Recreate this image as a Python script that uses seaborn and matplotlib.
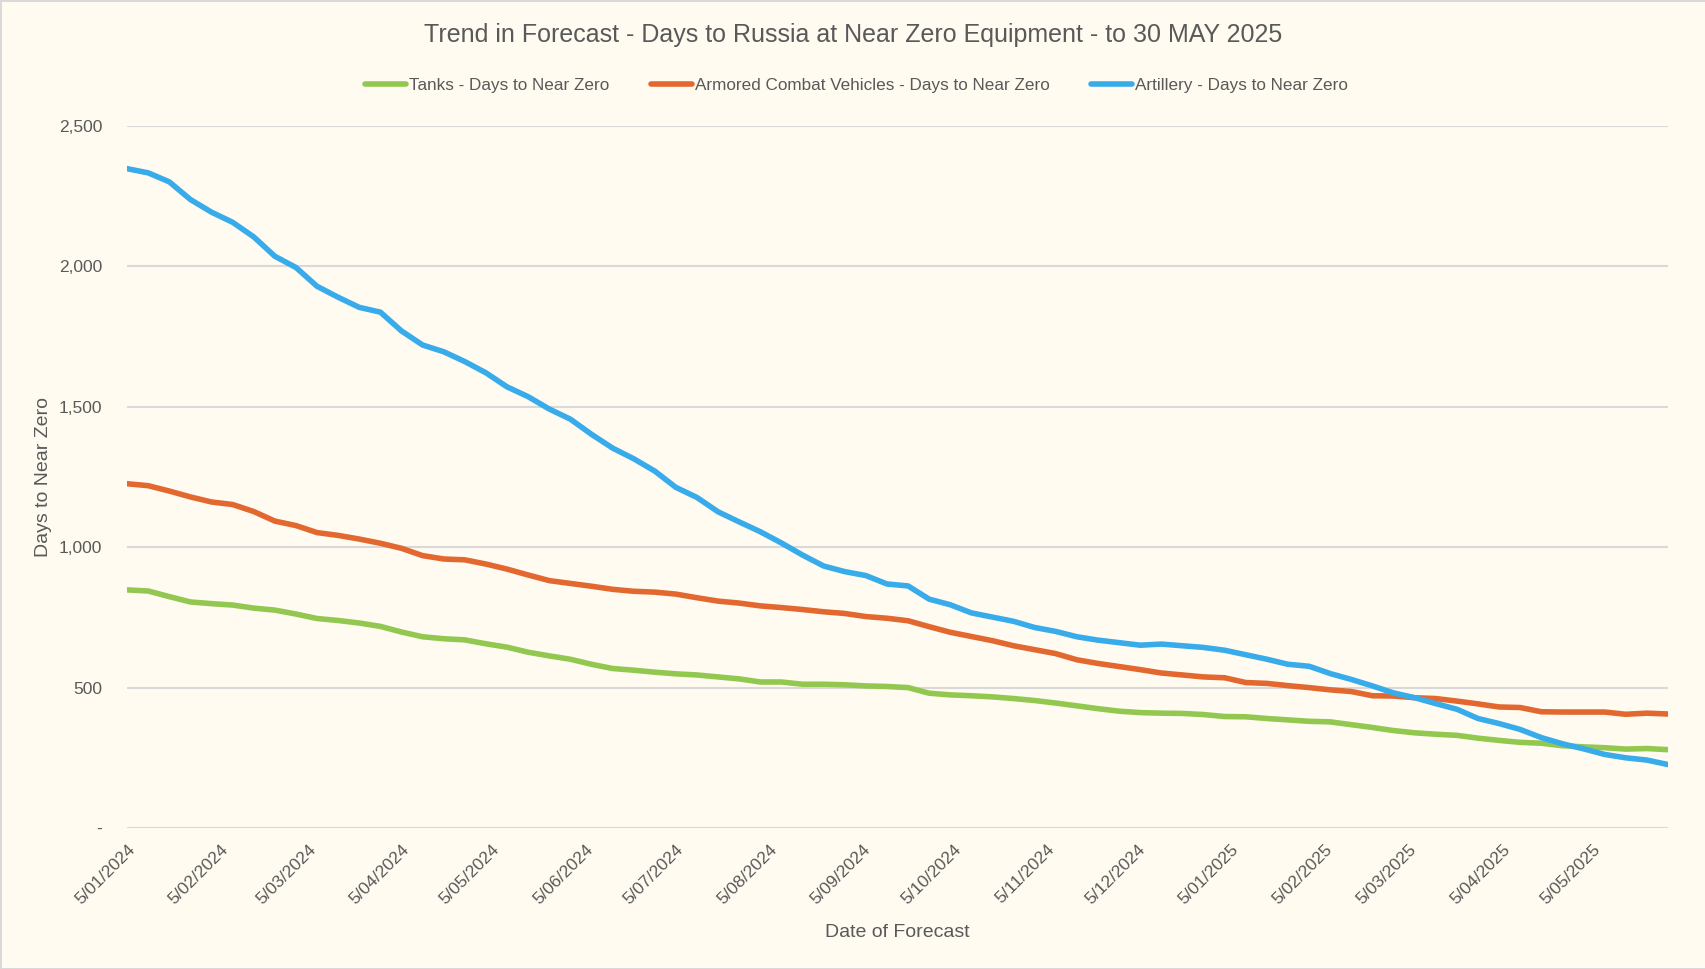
import pandas as pd
import numpy as np
import matplotlib
matplotlib.use("Agg")
import matplotlib.pyplot as plt
from matplotlib.ticker import FuncFormatter
import seaborn as sns

# weekly forecasts, 5 Jan 2024 -> 30 May 2025
dates = pd.date_range("2024-01-05", periods=74, freq="7D")

tanks = [848, 844, 824, 805, 799, 794, 783, 776, 762, 746, 739, 730, 718, 698, 681,
         674, 670, 656, 644, 626, 613, 601, 583, 568, 562, 555, 549, 545, 538, 531,
         520, 520, 512, 512, 510, 506, 504, 500, 480, 474, 471, 467, 461, 454, 445,
         435, 425, 416, 411, 409, 408, 404, 397, 396, 390, 385, 380, 378, 368, 358,
         347, 339, 334, 330, 320, 312, 305, 302, 293, 289, 286, 281, 283, 279]

acv = [1226, 1219, 1200, 1179, 1161, 1152, 1127, 1093, 1077, 1052, 1042, 1029, 1014, 996, 970,
       958, 955, 940, 922, 901, 881, 871, 861, 850, 843, 840, 833, 820, 808, 801,
       791, 785, 778, 770, 764, 753, 747, 738, 717, 697, 682, 667, 649, 635, 621,
       599, 586, 575, 564, 552, 545, 538, 535, 518, 515, 507, 500, 492, 486, 471,
       470, 464, 461, 452, 442, 431, 429, 414, 413, 413, 413, 405, 409, 406]

artillery = [2348, 2333, 2301, 2238, 2193, 2157, 2105, 2036, 1996, 1929, 1890, 1854, 1837, 1770, 1720,
             1696, 1661, 1621, 1571, 1536, 1492, 1456, 1402, 1353, 1315, 1271, 1213, 1177, 1126, 1090,
             1055, 1015, 972, 933, 913, 899, 869, 862, 815, 795, 766, 751, 736, 714, 700,
             681, 669, 660, 651, 655, 649, 643, 633, 617, 601, 583, 576, 550, 529, 506,
             481, 464, 443, 423, 390, 372, 351, 322, 300, 282, 262, 250, 242, 226]

series_names = ["Tanks - Days to Near Zero",
                "Armored Combat Vehicles - Days to Near Zero",
                "Artillery - Days to Near Zero"]
colors = ["#92C850", "#E2682F", "#38ABEB"]

df = pd.DataFrame({"Date": dates,
                   series_names[0]: tanks,
                   series_names[1]: acv,
                   series_names[2]: artillery})
long_df = df.melt(id_vars="Date", var_name="Series", value_name="Days")

bg = "#FFFBF0"
text_col = "#595959"

sns.set_style("white")
plt.rcParams["font.family"] = ["Liberation Sans", "DejaVu Sans"]

fig = plt.figure(figsize=(17.06, 9.69), dpi=100, facecolor=bg)
fig.patch.set_edgecolor("#D9D9D9")
fig.patch.set_linewidth(2)
ax = fig.add_axes([0.0745, 0.1455, 0.9032, 0.7245])
ax.set_facecolor(bg)

sns.lineplot(data=long_df, x="Date", y="Days", hue="Series",
             hue_order=series_names, palette=colors, linewidth=4,
             ax=ax, legend=True)

ax.set_ylim(0, 2500)
ax.set_xlim(dates[0], dates[-1])
ax.set_yticks(np.arange(0, 2501, 500))
ax.yaxis.set_major_formatter(FuncFormatter(lambda v, p: "-" if v == 0 else f"{v:,.0f}"))
ax.grid(axis="y", color="#D9D9D9", linewidth=1.5)
ax.set_axisbelow(True)
for s in ax.spines.values():
    s.set_visible(False)

# monthly ticks on the 5th
month_ticks = pd.date_range("2024-01-01", "2025-05-01", freq="MS") + pd.Timedelta(days=4)
ax.set_xticks(month_ticks)
ax.set_xticklabels([f"{d.day}/{d.month:02d}/{d.year}" for d in month_ticks])
plt.setp(ax.get_xticklabels(), rotation=45, ha="right", rotation_mode="anchor")
ax.tick_params(axis="x", length=0, pad=10, labelsize=12.5, labelcolor=text_col)
ax.tick_params(axis="y", length=0, pad=18, labelsize=12.5, labelcolor=text_col)

ax.set_xlabel("Date of Forecast", fontsize=14, color=text_col, labelpad=12)
ax.set_ylabel("Days to Near Zero", fontsize=14, color=text_col, labelpad=5)

fig.text(0.5, 0.964, "Trend in Forecast - Days to Russia at Near Zero Equipment - to 30 MAY 2025",
         ha="center", va="center", fontsize=18, color=text_col)

leg = ax.legend(loc="center", bbox_to_anchor=(0.502, 0.912), bbox_transform=fig.transFigure,
                ncol=3, frameon=False, handlelength=2.4, columnspacing=2.4,
                handletextpad=0.2, prop={"size": 12.3})
for t in leg.get_texts():
    t.set_color(text_col)
for h in leg.get_lines():
    h.set_linewidth(4)

fig.savefig("out.png", dpi=100, facecolor=bg, edgecolor=fig.patch.get_edgecolor())
